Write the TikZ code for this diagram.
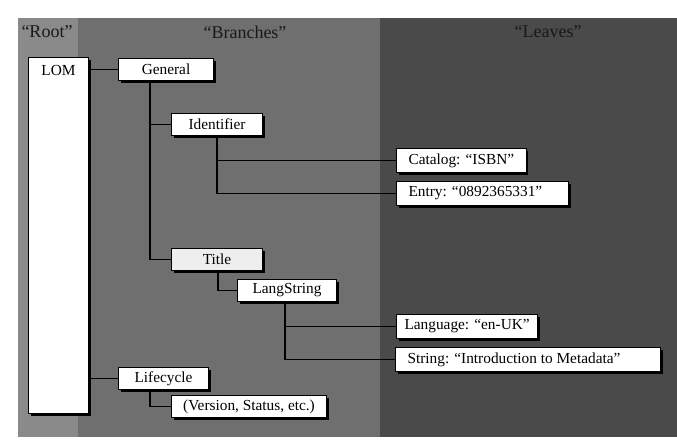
\documentclass[tikz,border=0pt]{standalone}
\usepackage{fontspec}
\setmainfont{Liberation Serif}
\usepackage{tikz}
\usetikzlibrary{shadows}
\definecolor{rootgray}{HTML}{8A8A8A}
\definecolor{branchgray}{HTML}{6F6F6F}
\definecolor{leafgray}{HTML}{4A4A4A}
\definecolor{titlegray}{HTML}{EEEEEE}

\begin{document}
\begin{tikzpicture}[x=0.75pt,y=-0.75pt,
  font=\fontsize{11.5}{13}\selectfont,
  box/.style={rectangle,draw=black,line width=0.8pt,fill=white,anchor=north west,
    drop shadow={shadow xshift=1.5pt,shadow yshift=-1.5pt,opacity=1,fill=black},
    minimum height=16.5pt,inner sep=2pt},
  leaf/.style={box,minimum height=18pt,inner xsep=9pt,align=flush left},
  head/.style={font=\fontsize{13.5}{15}\selectfont,text=black!90},
  tie/.style={line width=1.3pt}]
  \useasboundingbox (0,0) rectangle (677,440);
  \fill[white] (0,0) rectangle (677,440);
  \fill[rootgray] (18,18) rectangle (78,437);
  \fill[branchgray] (78,18) rectangle (380,437);
  \fill[leafgray] (380,18) rectangle (677,437);

  \node[head] (HRoot) at (47,32) {“Root”};
  \node[head] (HBranch) at (245,32) {“Branches”};
  \node[head] (HLeaf) at (548,32) {“Leaves”};

  \node[box, minimum width=45pt, minimum height=267pt,
    label={[anchor=north,inner sep=6pt]north:LOM}] (LOM) at (28,57) {};
  \node[box, minimum width=71.25pt] (Gen) at (118,58) {General};
  \node[box, minimum width=68.25pt] (Id) at (171,113) {Identifier};
  \node[leaf] (Cat) at (396,148) {Catalog: “ISBN”};
  \node[leaf, text width=111pt] (Ent) at (396,181) {Entry: “0892365331”};
  \node[box, minimum width=68.25pt, fill=titlegray] (Ti) at (171,248) {Title};
  \node[box, minimum width=74.25pt] (LS) at (237,279) {LangString};
  \node[leaf, inner xsep=6pt] (Lang) at (396,314) {Language: “en-UK”};
  \node[leaf, text width=181pt] (Str) at (395,347) {String: “Introduction to Metadata”};
  \node[box, minimum width=67.5pt] (Life) at (118,367) {Lifecycle};
  \node[box, minimum width=116.25pt] (Ver) at (171,395) {(Version, Status, etc.)};

  % root to branches
  \draw[tie] (Gen.west) -- (Gen.west -| LOM.east);
  \draw[tie] (Life.west) -- (Life.west -| LOM.east);
  % General
  \draw[tie] (Gen.south west) ++(32,0) |- (Id.west);
  \draw[tie] (Gen.south west) ++(32,0) |- (Ti.west);
  \draw[tie] (Id.south west) ++(46,0) |- (Cat.west);
  \draw[tie] (Id.south west) ++(46,0) |- (Ent.west);
  \draw[tie] (Ti.south west) ++(47,0) |- (LS.west);
  \draw[tie] (LS.south west) ++(48,0) |- (Lang.west);
  \draw[tie] (LS.south west) ++(48,0) |- (Str.west);
  % Lifecycle
  \draw[tie] (Life.south west) ++(32,0) |- (Ver.west);
\end{tikzpicture}
\end{document}
